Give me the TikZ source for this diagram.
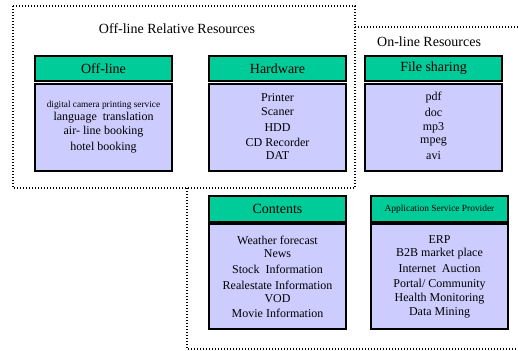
\documentclass[tikz,border=0pt]{standalone}
\usepackage{fontspec}
\setmainfont{Liberation Serif}
\definecolor{headgreen}{HTML}{00CC99}
\definecolor{bodylav}{HTML}{CCCCFF}
\tikzset{
  headbox/.style={draw=black, line width=1.6pt, fill=headgreen, minimum width=137pt, inner sep=0pt, font=\fontsize{14}{16}\selectfont},
  bodybox/.style={draw=black, line width=1.6pt, fill=bodylav, minimum width=137pt, inner sep=0pt},
  itemtext/.style={inner sep=0pt, anchor=center, font=\fontsize{12}{14}\selectfont},
  regionline/.style={line width=1.1pt, dash pattern=on 1.1pt off 1.9pt},
  regiontitle/.style={inner sep=0pt, font=\fontsize{14}{16}\selectfont}
}
\begin{document}
\begin{tikzpicture}[x=1pt, y=-1pt]
  \useasboundingbox (0,0) rectangle (518,350);

  % region outlines
  \draw[regionline] (13,6) rectangle (355,188);
  \draw[regionline] (355,27) -- (518,27);
  \draw[regionline] (187,188) -- (187,349) -- (518,349);

  \node[regiontitle] (offtitle) at (177,29) {Off-line Relative Resources};
  \node[regiontitle, anchor=west] (ontitle) at (377,42) {On-line Resources};

  % Off-line
  \node[headbox, minimum height=25pt] (offh) at (103.5,68.5) {Off-line};
  \node[bodybox, minimum height=87pt] (offb) at (103.5,127.5) {};
  \node[itemtext, font=\fontsize{9.3}{11}\selectfont] (off1) at (103.5,105) {digital camera printing service};
  \node[itemtext] (off2) at (103.5,118) {language\ \ translation};
  \node[itemtext] (off3) at (103.5,132) {air- line booking};
  \node[itemtext] (off4) at (103.5,148) {hotel booking};

  % Hardware
  \node[headbox, minimum height=25pt] (hwh) at (277.5,68.5) {Hardware};
  \node[bodybox, minimum height=87pt] (hwb) at (277.5,127.5) {};
  \foreach \t/\y [count=\i] in {Printer/98,Scaner/112,HDD/128,CD Recorder/142,DAT/156}
    \node[itemtext] (hw\i) at (277.5,\y) {\t};

  % File sharing
  \node[headbox, minimum height=25pt] (fsh) at (433.5,68.5) {File sharing};
  \node[bodybox, minimum height=87pt] (fsb) at (433.5,127.5) {};
  \foreach \t/\y [count=\i] in {pdf/98,doc/112,mp3/128,mpeg/142,avi/156}
    \node[itemtext] (fs\i) at (433.5,\y) {\t};

  % Contents
  \node[headbox, minimum height=26pt] (cth) at (277.5,209) {Contents};
  \node[bodybox, minimum height=105pt] (ctb) at (277.5,276.5) {};
  \foreach \t/\y [count=\i] in {Weather forecast/240,News/254,{Stock\ \ Information}/269,Realestate Information/285,VOD/299,Movie Information/313}
    \node[itemtext] (ct\i) at (277.5,\y) {\t};

  % Application Service Provider
  \node[headbox, minimum height=26pt, font=\fontsize{9.4}{11}\selectfont] (asph) at (439.5,209) {Application Service Provider};
  \node[bodybox, minimum height=105pt] (aspb) at (439.5,276.5) {};
  \foreach \t/\y [count=\i] in {ERP/240,B2B market place/254,{Internet\ \ Auction}/269,{Portal/ Community}/285,Health Monitoring/299,Data Mining/313}
    \node[itemtext] (asp\i) at (439.5,\y) {\t};
\end{tikzpicture}
\end{document}
